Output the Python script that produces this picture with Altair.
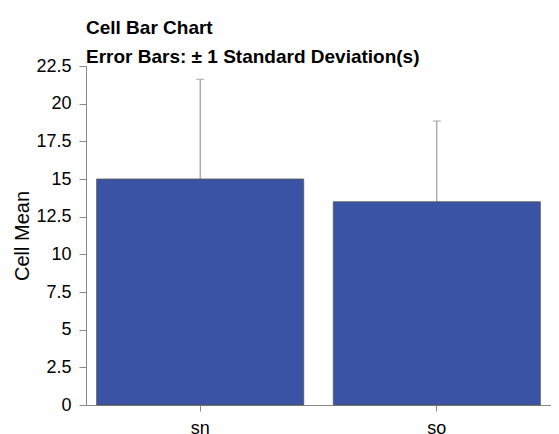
import altair as alt
import pandas as pd

categories = ["sn", "so"]
means = [15.0, 13.49]
sds = [6.62, 5.36]
y_ticks = [0, 2.5, 5, 7.5, 10, 12.5, 15, 17.5, 20, 22.5]

df = pd.DataFrame({"cat": categories, "mean": means, "sd": sds})
df["upper"] = df["mean"] + df["sd"]

FONT = "Liberation Sans"

x_scale = alt.Scale(paddingInner=0.125, paddingOuter=0.045)
x_axis = alt.Axis(
    labelAngle=0, labelFont=FONT, labelFontSize=18, labelColor="black",
    tickSize=6, tickColor="#888", domainColor="#888", labelPadding=8,
)
x_enc = alt.X("cat:N", title=None, scale=x_scale, axis=x_axis)

y_scale = alt.Scale(domain=[0, 22.5], nice=False)
y_axis = alt.Axis(
    values=y_ticks, labelExpr="format(datum.value, '.1~f')", grid=False, labelOverlap=False,
    labelFont=FONT, labelFontSize=18, labelColor="black", labelPadding=8,
    tickSize=7, tickColor="#888", domainColor="#888",
    titleFont=FONT, titleFontSize=20, titleFontWeight="normal", titleColor="black",
    titlePadding=3,
)

bars = alt.Chart(df).mark_bar(color="#3b53a4", stroke="#555", strokeWidth=0.8).encode(
    x=x_enc,
    y=alt.Y("mean:Q", scale=y_scale, title="Cell Mean", axis=y_axis),
)

rules = alt.Chart(df).mark_rule(color="#888", strokeWidth=1).encode(
    x=x_enc,
    y=alt.Y("mean:Q", scale=y_scale, title="Cell Mean", axis=y_axis),
    y2="upper:Q",
)

caps = alt.Chart(df).mark_tick(color="#888", size=8, thickness=1, orient="horizontal").encode(
    x=x_enc,
    y=alt.Y("upper:Q", scale=y_scale, title="Cell Mean", axis=y_axis),
)

chart = (rules + bars + caps).properties(
    width=465,
    height=339,
    autosize=alt.AutoSizeParams(type="none"),
    padding={"left": 78, "top": 58, "right": 0, "bottom": 40},
    title=alt.TitleParams(
        text="Cell Bar Chart",
        subtitle="Error Bars: ± 1 Standard Deviation(s)",
        anchor="start",
        frame="group",
        font=FONT,
        fontSize=19,
        fontWeight="bold",
        color="black",
        subtitleFont=FONT,
        subtitleFontSize=19,
        subtitleFontWeight="bold",
        subtitleColor="black",
        subtitlePadding=10,
        offset=-10,
    ),
).configure_view(stroke=None)

chart.save("out.html", embed_options={"renderer": "svg", "actions": False})
